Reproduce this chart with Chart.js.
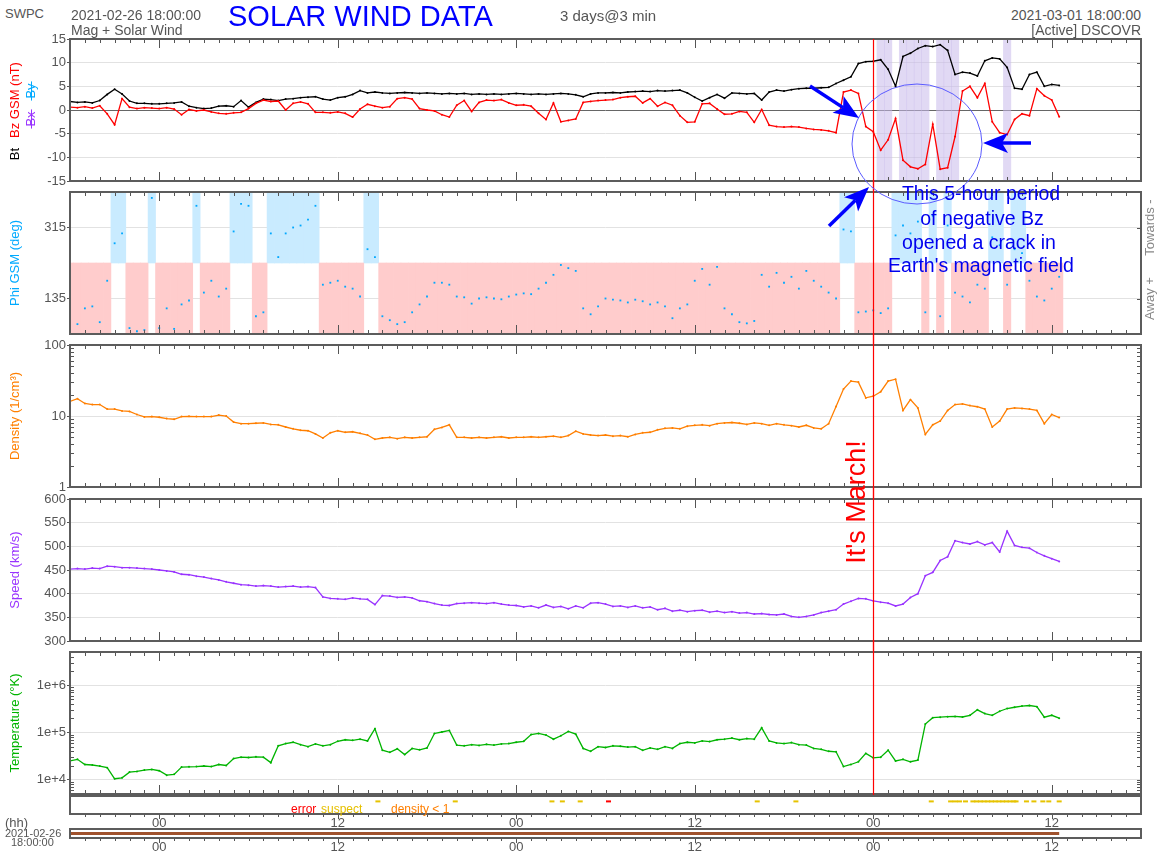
<!DOCTYPE html>
<html>
<head>
<meta charset="utf-8">
<title>Solar Wind Data</title>
<script src="https://cdn.jsdelivr.net/npm/chart.js@4.4.1/dist/chart.umd.min.js"></script>
<style>
  body { margin: 0; background: #fff; }
  #page { position: relative; width: 1157px; height: 856px; overflow: hidden; font-family: "Liberation Sans", Arial, sans-serif; }
  #page canvas { position: absolute; left: 0; z-index: 1; }
  .t { position: absolute; white-space: nowrap; line-height: 1; color: #555; font-size: 14px; z-index: 2; }
  #ann { position: absolute; left: 0; top: 0; z-index: 5; }
</style>
</head>
<body>
<div id="page">
  <div class="t" style="left:5px;top:7px;font-size:13px">SWPC</div>
  <div class="t" style="left:71px;top:8px">2021-02-26 18:00:00</div>
  <div class="t" style="left:71px;top:23px">Mag + Solar Wind</div>
  <div class="t" style="left:228px;top:2px;font-size:29px;color:#0000ff">SOLAR WIND DATA</div>
  <div class="t" style="left:560px;top:8px;font-size:15px">3 days@3 min</div>
  <div class="t" style="right:16px;top:8px">2021-03-01 18:00:00</div>
  <div class="t" style="right:16px;top:23px">[Active] DSCOVR</div>

  <div class="t" style="left:291px;top:803px;font-size:12px;color:#ff0000">error</div>
  <div class="t" style="left:321px;top:803px;font-size:12px;color:#e6c000">suspect</div>
  <div class="t" style="left:391px;top:803px;font-size:12px;color:#ff7f00">density &lt; 1</div>

  <div class="t" style="left:5px;top:816px;font-size:13px">(hh)</div>
  <div class="t" style="left:5px;top:828px;font-size:11px">2021-02-26</div>
  <div class="t" style="left:11px;top:837px;font-size:11px">18:00:00</div>

  <svg id="ann" width="1157" height="856">
    <ellipse cx="917" cy="144" rx="65" ry="60" fill="none" stroke="#5a5aff" stroke-width="1"/>
    <g id="arrows" fill="#0000ff" stroke="#0000ff"></g>
    <g font-family="Liberation Sans, Arial, sans-serif" font-size="19.5" fill="#0000ee" text-anchor="middle">
      <text x="981" y="200">This 5-hour period</text>
      <text x="982" y="225">of negative Bz</text>
      <text x="979" y="249">opened a crack in</text>
      <text x="981" y="272">Earth's magnetic field</text>
    </g>
    <text transform="translate(865,502) rotate(-90)" text-anchor="middle" font-size="27" fill="#ff0000"
          font-family="Liberation Sans, Arial, sans-serif">It's March!</text>
  </svg>
</div>

<script>
// 30-minute samples, starting 2021-02-26 18:00 UT
const bt = [
  1.8,1.6,1.7,1.5,2.0,3.3,4.4,3.4,1.9,1.4,
  1.4,1.3,1.3,1.4,1.5,1.7,0.8,0.5,0.3,0.4,
  0.8,0.9,0.7,2.0,0.6,1.6,2.3,2.2,2.0,2.3,
  2.4,2.6,2.7,2.8,2.3,2.1,2.6,2.8,3.3,4.1,
  3.6,3.8,3.6,3.5,3.6,3.7,3.6,3.5,3.6,3.5,
  3.4,3.5,3.4,3.5,3.3,3.4,3.3,3.4,3.3,3.4,
  3.5,3.4,3.3,3.4,3.3,3.4,3.5,3.4,3.2,2.8,
  3.4,3.6,3.6,3.7,3.6,3.8,3.9,4.0,3.9,4.1,
  4.0,4.1,4.2,3.6,2.7,1.9,2.6,3.3,2.5,3.6,
  3.5,3.4,3.5,2.1,3.8,4.2,4.0,4.3,4.5,4.6,
  4.6,4.7,4.8,5.6,6.3,7.0,9.8,10.2,10.3,10.6,
  8.6,5.0,11.3,12.0,13.0,13.6,13.4,13.8,12.6,7.5,
  8.0,7.8,7.2,10.4,11.0,10.8,9.0,4.6,4.4,7.5,
  8.0,5.0,5.4,5.2
];
const bz = [
  0.6,0.5,0.7,0.4,0.9,-0.8,-3.1,2.4,0.6,0.3,
  0.5,0.4,0.3,0.5,0.2,-1.0,0.1,-0.2,0.0,-0.4,
  -0.7,-0.8,-0.6,-0.5,0.3,1.4,2.1,1.8,1.9,0.0,
  1.4,1.7,1.3,-0.5,-0.5,-0.6,-0.4,-0.7,-1.5,0.2,
  1.2,0.8,0.5,0.7,2.4,2.6,2.3,0.3,0.0,-0.2,
  -1.0,-1.5,1.0,2.0,-0.3,1.6,2.1,2.0,2.2,1.5,
  1.0,1.1,0.8,-0.7,-2.0,1.5,-2.5,-2.2,-1.9,1.6,
  1.8,2.0,2.1,2.2,2.6,2.8,2.9,1.5,2.4,0.8,
  1.6,1.0,-1.2,-2.6,-2.5,1.3,1.4,0.2,-0.9,-0.8,
  -0.3,-0.5,-2.6,0.1,-3.2,-3.5,-3.6,-3.5,-3.6,-3.9,
  -4.1,-4.2,-4.4,-4.8,3.8,4.2,3.5,-3.5,-4.6,-8.5,
  -6.3,-1.8,-10.6,-12.0,-12.4,-11.5,-3.0,-12.5,-12.2,-5.6,
  4.0,5.0,2.6,5.6,-2.5,-4.8,-5.2,-2.0,-0.8,-1.2,
  4.5,3.0,2.1,-1.4
];
const phi = [
  68,70,110,115,75,180,275,300,60,52,
  55,390,60,110,58,120,130,370,150,180,
  140,160,305,375,370,90,100,300,240,300,
  315,320,335,370,170,175,180,165,160,140,
  260,240,90,80,70,75,100,120,140,175,
  175,170,140,138,122,135,138,135,133,140,
  145,148,146,160,175,195,220,212,205,110,
  95,115,135,132,130,125,132,128,120,125,
  115,85,110,120,180,210,170,215,110,95,
  75,72,78,195,165,200,175,190,160,205,
  180,165,150,135,310,305,100,102,105,98,
  110,295,320,300,330,100,345,90,320,150,
  140,125,170,160,290,270,170,260,250,180,
  140,130,160,190
];
const density = [
  16,17.5,15,14.5,14.5,12.5,12.5,11.8,11.6,10.5,
  9.7,9.8,9.6,9.2,9.0,9.8,9.9,9.8,9.8,9.8,
  10.3,10.0,8.2,7.8,7.8,7.9,8.0,7.6,7.5,7.0,
  6.6,6.3,6.2,5.6,4.9,5.8,6.2,5.9,6.0,5.7,
  5.4,4.7,4.9,5.0,4.8,5.0,4.9,5.0,5.1,6.5,
  6.9,7.5,5.0,5.0,4.9,5.0,4.9,5.0,5.1,4.9,
  5.0,5.0,5.1,5.0,5.1,5.2,5.0,5.3,6.1,5.6,
  5.4,5.3,5.4,5.2,5.3,5.1,5.5,5.8,5.9,6.4,
  6.7,6.8,6.6,7.2,7.4,7.5,7.3,7.8,8.0,8.1,
  7.9,7.6,8.0,7.8,7.4,7.8,7.5,7.3,7.0,7.4,
  6.8,6.6,7.8,13.6,24,31,30,18,19,22,
  31,33,12,17,13,5.5,7.5,8.5,12,14.5,
  14.8,14.0,13.5,12.5,7.0,8.5,12.5,13,12.8,12.5,
  12,7.8,10.5,9.5
];
const speed = [
  452,453,452,454,453,458,457,455,455,454,
  453,452,450,448,446,441,440,437,435,432,
  429,425,422,419,418,416,417,416,414,415,
  416,414,415,413,393,390,389,388,391,389,
  388,377,396,395,392,393,391,385,383,379,
  376,375,379,380,381,380,379,381,378,376,
  375,372,374,370,376,371,373,368,374,370,
  380,381,378,373,374,371,374,370,372,366,
  369,363,365,362,364,365,361,363,360,362,
  359,360,357,358,356,355,357,352,350,352,
  355,360,363,366,378,384,390,389,385,382,
  380,374,378,392,400,438,445,470,478,512,
  508,505,510,503,508,488,532,502,498,496,
  487,480,474,468
];
const temp = [
  25000,27000,21000,20500,19500,18000,10500,11000,14500,15000,
  16000,16500,15500,12500,13000,18500,18800,19000,19500,19000,
  21000,20000,28000,30000,29500,30500,30000,23000,52000,58000,
  62000,55000,50000,57000,52000,55000,65000,70000,68000,72000,
  66000,120000,42000,38000,45000,34000,46000,43000,47000,95000,
  102000,110000,54000,52000,55000,53000,56000,54000,57000,58000,
  62000,65000,90000,95000,88000,72000,85000,105000,92000,46000,
  40000,50000,48000,52000,51000,49000,50000,42000,47000,44000,
  50000,46000,58000,62000,60000,66000,64000,70000,72000,76000,
  70000,74000,72000,125000,66000,60000,58000,61000,55000,54000,
  46000,44000,40000,39000,19000,21000,24000,36000,29000,30000,
  42000,25000,27000,24000,26000,150000,205000,210000,215000,218000,
  212000,230000,300000,250000,230000,280000,320000,340000,360000,370000,
  350000,210000,230000,200000
];
// quality flags, hours after start
const suspectHours = [20.7, 25.9, 32.4, 33.1, 34.3, 46.2, 48.8, 57.9, 59.2, 59.5, 59.8, 60.2,
  60.7, 60.95, 61.2, 61.45, 61.7, 61.95, 62.2, 62.45, 62.7, 62.95, 63.2, 63.45, 63.6,
  64.3, 64.8, 65.4, 65.8, 66.5];
const errorHours = [36.2];

const hours = bt.map((_, i) => i * 0.5);
const tickHours = [6, 18, 30, 42, 54, 66];
const tickLabels = ['00', '12', '00', '12', '00', '12'];
const marchHour = 54;
const sectorSplit = 225;

const magTicks = [-15, -10, -5, 0, 5, 10, 15];
const phiTicks = [135, 315];
const densityTicks = [1, 10, 100];
const speedTicks = [300, 350, 400, 450, 500, 550, 600];
const tempTicks = [1e4, 1e5, 1e6];
const tempTickLabels = ['1e+4', '1e+5', '1e+6'];

Chart.defaults.font.family = '"Liberation Sans", Arial, sans-serif';
Chart.defaults.color = '#555';

const FONT = '13px "Liberation Sans", Arial, sans-serif';

// frame, inward hour ticks, titles and the March line
const decor = {
  id: 'decor',
  afterDraw(chart, args, o) {
    const { ctx, chartArea: a } = chart;
    const xs = chart.scales.x, ys = chart.scales.y;
    ctx.save();
    ctx.strokeStyle = '#555';
    ctx.lineWidth = 1;
    ctx.beginPath();
    for (let h = 1; h < 72; h++) {
      const px = Math.round(xs.getPixelForValue(h)) + 0.5;
      const major = tickHours.includes(h);
      if (o.inTicks) {
        const len = major ? 9 : 4;
        ctx.moveTo(px, a.top); ctx.lineTo(px, a.top + len);
        ctx.moveTo(px, a.bottom); ctx.lineTo(px, a.bottom - len);
      }
      if (o.outTicks) {
        ctx.moveTo(px, a.bottom); ctx.lineTo(px, a.bottom + (major ? 5 : 3));
      }
    }
    if (o.rightTicks) {
      ys.ticks.forEach(t => {
        const py = Math.round(ys.getPixelForValue(t.value)) + 0.5;
        ctx.moveTo(a.right, py); ctx.lineTo(a.right - 4, py);
      });
    }
    if (o.logMinor) {
      for (let d = Math.floor(Math.log10(ys.min)); d < Math.log10(ys.max); d++) {
        for (let k = 2; k < 10; k++) {
          const v = k * Math.pow(10, d);
          if (v <= ys.min || v >= ys.max) continue;
          const py = Math.round(ys.getPixelForValue(v)) + 0.5;
          ctx.moveTo(a.left, py); ctx.lineTo(a.left + 4, py);
          ctx.moveTo(a.right, py); ctx.lineTo(a.right - 4, py);
        }
      }
    }
    ctx.stroke();

    ctx.lineWidth = 2;
    ctx.strokeStyle = '#5c5c5c';
    ctx.strokeRect(a.left, a.top, a.width, a.height);

    ctx.font = FONT;
    ctx.textAlign = 'center';
    ctx.textBaseline = 'middle';
    (o.titles || []).forEach(t => {
      ctx.save();
      ctx.translate(t.x, (a.top + a.bottom) / 2 + (t.dy || 0));
      ctx.rotate(-Math.PI / 2);
      ctx.fillStyle = t.color;
      ctx.fillText(t.text, 0, 0);
      if (t.strike) {
        const w = ctx.measureText(t.text).width / 2 + 2;
        ctx.strokeStyle = t.color;
        ctx.lineWidth = 1;
        ctx.beginPath(); ctx.moveTo(-w, 0.5); ctx.lineTo(w, 0.5); ctx.stroke();
      }
      ctx.restore();
    });
    (o.side || []).forEach(t => {
      ctx.save();
      ctx.translate(1150, ys.getPixelForValue(t.value));
      ctx.rotate(-Math.PI / 2);
      ctx.fillStyle = '#888';
      ctx.fillText(t.text, 0, 0);
      ctx.restore();
    });

    if (o.march) {
      const px = Math.round(xs.getPixelForValue(marchHour)) + 0.5;
      ctx.strokeStyle = '#ff0000';
      ctx.lineWidth = 1.2;
      ctx.beginPath();
      ctx.moveTo(px, o.march === 'top' ? a.top : 0);
      ctx.lineTo(px, o.march === 'end' ? a.bottom + 2 : chart.height);
      ctx.stroke();
    }
    ctx.restore();
  }
};

const page = document.getElementById('page');
const PAD = 12;

function addCanvas(top, height) {
  const c = document.createElement('canvas');
  c.width = 1157;
  c.height = height;
  c.style.top = top + 'px';
  page.appendChild(c);
  return c;
}

function yScale(type, min, max, ticks, labels, gridColor) {
  return {
    type, min, max,
    afterFit(s) { s.width = 70; },
    afterBuildTicks(s) { s.ticks = ticks.map(v => ({ value: v })); },
    border: { display: false },
    grid: { color: gridColor || '#e2e2e2', tickColor: '#555', tickLength: 3 },
    ticks: { color: '#555', font: { size: 13 }, padding: 1, autoSkip: false, callback: (v, i) => labels[i] }
  };
}

function trace(values, color) {
  return {
    data: hours.map((h, i) => ({ x: h, y: values[i] })),
    borderColor: color, borderWidth: 1.3, tension: 0,
    pointRadius: 1, pointBackgroundColor: color, pointBorderWidth: 0, pointHoverRadius: 0,
    order: 1
  };
}

function band(test, range, color) {
  return {
    type: 'bar',
    data: hours.map((h, i) => ({ x: h, y: test(i) ? range : null })),
    backgroundColor: color, borderWidth: 0,
    grouped: false, barPercentage: 1, categoryPercentage: 1,
    order: 2
  };
}

function panel(top, bottom, datasets, y, deco) {
  const cv = addCanvas(top - PAD, bottom - top + 2 * PAD);
  return new Chart(cv, {
    type: 'line',
    data: { datasets },
    options: {
      responsive: false, animation: false, events: [],
      layout: { padding: { top: PAD, bottom: PAD, left: 0, right: 16 } },
      plugins: { legend: { display: false }, tooltip: { enabled: false }, decor: deco },
      scales: { x: { type: 'linear', min: 0, max: 72, display: false, offset: false }, y }
    },
    plugins: [decor]
  });
}

function timeAxis() {
  return {
    type: 'linear', min: 0, max: 72, offset: false, position: 'bottom',
    afterBuildTicks(s) { s.ticks = tickHours.map(v => ({ value: v })); },
    afterFit(s) { s.height = 18; },
    grid: { display: false, drawTicks: false }, border: { display: false },
    ticks: { color: '#555', font: { size: 13 }, padding: 2, maxRotation: 0, autoSkip: false,
             callback: (v, i) => tickLabels[i] }
  };
}

function stripChart(top, height, padTop, padBottom, datasets) {
  const cv = addCanvas(top, height);
  return new Chart(cv, {
    type: 'line',
    data: { datasets },
    options: {
      responsive: false, animation: false, events: [],
      layout: { padding: { top: padTop, bottom: padBottom, left: 0, right: 16 } },
      plugins: { legend: { display: false }, tooltip: { enabled: false }, decor: { outTicks: true } },
      scales: {
        x: timeAxis(),
        y: { min: 0, max: 1, afterFit(s) { s.width = 70; }, ticks: { display: false },
             grid: { display: false }, border: { display: false } }
      }
    },
    plugins: [decor]
  });
}

// Mag panel
panel(39, 181, [
  trace(bz, '#ff0000'),
  trace(bt, '#000000'),
  band(i => bz[i] <= -5, [-15, 15], 'rgba(200,185,235,0.55)')
], yScale('linear', -15, 15, magTicks, magTicks.map(String),
          c => c.tick.value === 0 ? '#666' : '#e2e2e2'),
{ inTicks: true, rightTicks: true, march: 'top', titles: [
  { text: 'Bz GSM (nT)', color: '#ff0000', x: 15, dy: -10 },
  { text: 'Bt', color: '#000000', x: 15, dy: 44 },
  { text: 'By', color: '#00aaff', x: 31, dy: -19, strike: true },
  { text: 'Bx', color: '#9933ff', x: 31, dy: 9, strike: true }
] });

// Phi panel
panel(192, 334, [
  { data: hours.map((h, i) => ({ x: h, y: phi[i] })), showLine: false,
    pointRadius: 1.3, pointStyle: 'rect', pointBackgroundColor: '#00a8ff', pointBorderWidth: 0, order: 1 },
  band(i => phi[i] < sectorSplit, [45, sectorSplit], '#ffcccc'),
  band(i => phi[i] >= sectorSplit, [sectorSplit, 405], '#c9ebff')
], yScale('linear', 45, 405, phiTicks, phiTicks.map(String)),
{ inTicks: true, rightTicks: true, march: true,
  titles: [{ text: 'Phi GSM (deg)', color: '#00aaff', x: 15 }],
  side: [{ text: 'Towards -', value: 315 }, { text: 'Away +', value: 135 }] });

// Density panel
panel(345, 487, [
  trace(density, '#ff7f00')
], yScale('logarithmic', 1, 100, densityTicks, densityTicks.map(String)),
{ inTicks: true, rightTicks: true, logMinor: true, march: true,
  titles: [{ text: 'Density (1/cm³)', color: '#ff7f00', x: 15 }] });

// Speed panel
panel(499, 641, [
  trace(speed, '#9933ff')
], yScale('linear', 300, 600, speedTicks, speedTicks.map(String)),
{ inTicks: true, rightTicks: true, march: true,
  titles: [{ text: 'Speed (km/s)', color: '#9933ff', x: 15 }] });

// Temperature panel
panel(652, 794, [
  trace(temp, '#00b400')
], yScale('logarithmic', 5000, 5e6, tempTicks, tempTickLabels),
{ inTicks: true, rightTicks: true, logMinor: true, march: 'end',
  titles: [{ text: 'Temperature (°K)', color: '#00b400', x: 15 }] });

// quality flags strip with hour labels
stripChart(790, 44, 4, 2, [
  { data: suspectHours.map(h => ({ x: h, y: 0.7 })), showLine: false, pointStyle: 'line',
    pointRadius: 2.5, borderColor: '#e6c300', pointBorderWidth: 2 },
  { data: errorHours.map(h => ({ x: h, y: 0.7 })), showLine: false, pointStyle: 'line',
    pointRadius: 2.5, borderColor: '#ff0000', pointBorderWidth: 2 }
]);

// data coverage bar
stripChart(825, 31, 4, 0, [
  { data: hours.map(h => ({ x: h, y: 0.5 })), borderColor: '#a0522d', borderWidth: 3, pointRadius: 0 }
]);

// annotation arrows
function arrow(x1, y1, x2, y2) {
  const a = Math.atan2(y2 - y1, x2 - x1), L = 25, W = 10, N = 6;
  const c = Math.cos(a), s = Math.sin(a);
  const bx = x2 - L * c, by = y2 - L * s;
  const nx = bx + N * c, ny = by + N * s;
  return `<line x1="${x1}" y1="${y1}" x2="${nx}" y2="${ny}" stroke-width="3.5"/>` +
    `<polygon stroke="none" points="${x2},${y2} ${bx - s * W},${by + c * W} ${nx},${ny} ${bx + s * W},${by - c * W}"/>`;
}
document.getElementById('arrows').innerHTML =
  arrow(810, 86, 859, 118) + arrow(1031, 143, 983, 143) + arrow(829, 226, 869, 187);
</script>
</body>
</html>
